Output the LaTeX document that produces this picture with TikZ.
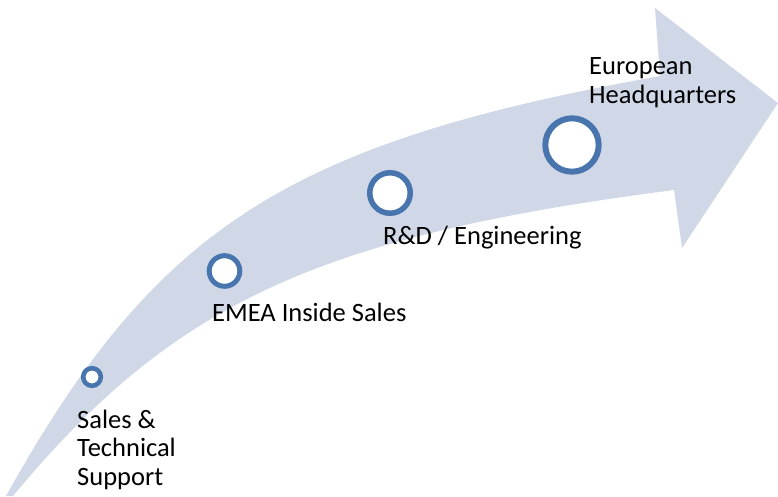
\documentclass[tikz,border=0pt]{standalone}
\usepackage{fontspec}
\setmainfont{Carlito}
\definecolor{band}{RGB}{208,216,232}
\definecolor{ring}{RGB}{72,117,174}
\begin{document}
\begin{tikzpicture}[x=1pt,y=-1pt,
  milestone/.style={circle,draw=ring,fill=white,inner sep=0pt},
  lbl/.style={anchor=base west,inner sep=0pt,align=left,font=\fontsize{26.5}{28.5}\selectfont}]
\useasboundingbox (0,0) rectangle (778,496);
\fill[band] (6,496) .. controls (156,227) and (287,143) .. (660,76)
  -- (655,8) -- (778,103) -- (682,248) -- (674,190)
  .. controls (318,236) and (173,303) .. (13,496)
  -- cycle;
\node[milestone,minimum size=17.6pt,line width=4.6pt] (m1) at (92,377) {};
\node[milestone,minimum size=30.6pt,line width=5pt] (m2) at (224.5,271) {};
\node[milestone,minimum size=40.5pt,line width=5.5pt] (m3) at (390,193) {};
\node[milestone,minimum size=53.4pt,line width=6pt] (m4) at (572,145) {};
\node[lbl] (t1) at (77,485) {Sales \&\\Technical\\Support};
\node[lbl] (t2) at (212,321) {EMEA Inside Sales};
\node[lbl] (t3) at (383,244) {R\&D / Engineering};
\node[lbl] (t4) at (589,103) {European\\Headquarters};
\end{tikzpicture}
\end{document}
